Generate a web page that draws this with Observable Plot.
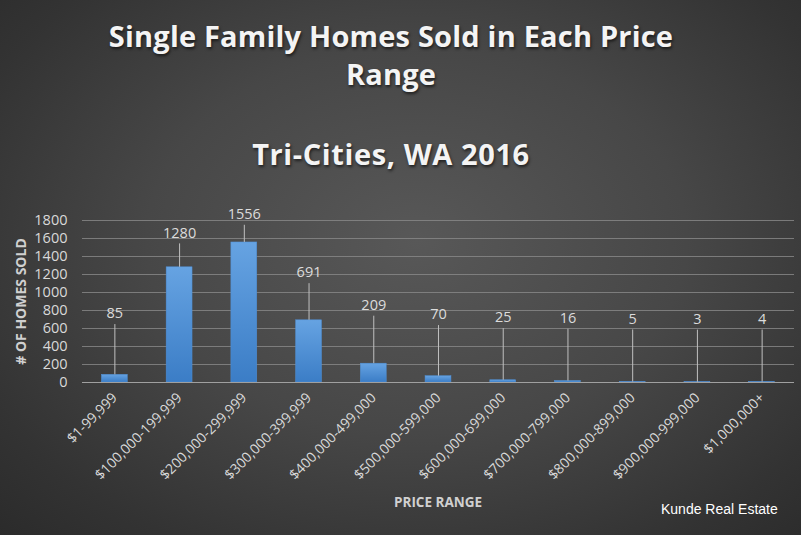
<!DOCTYPE html>
<html>
<head>
<meta charset="utf-8">
<script src="https://cdn.jsdelivr.net/npm/d3@7"></script>
<script src="https://cdn.jsdelivr.net/npm/@observablehq/plot@0.6"></script>
<style>
  html, body { margin: 0; padding: 0; }
  #frame {
    position: relative; width: 801px; height: 535px; overflow: hidden;
    background: radial-gradient(ellipse 75% 80% at 52% 45%, #585858 0%, #474747 45%, #333333 80%, #2a2a2a 100%);
    font-family: "Open Sans", sans-serif;
  }
  .title {
    position: absolute; left: 0; width: 782px; text-align: center;
    color: #f4f4f4; font-weight: 700; font-size: 29px; line-height: 38px;
    text-shadow: 1px 2px 3px rgba(0,0,0,0.6);
    letter-spacing: 0.2px;
  }
  #chart { position: absolute; left: 0; top: 0; }
  .note { position: absolute; color: #e6e6e6; }
</style>
</head>
<body>
<div id="frame">
  <div class="title" style="top:17px">Single Family Homes Sold in Each Price<br>Range</div>
  <div class="title" style="top:135px; letter-spacing:0.6px">Tri-Cities, WA 2016</div>
  <div id="chart"></div>
  <div class="note" style="left:394px; top:493px; font-weight:700; font-size:13.5px; color:#d0d0d0;">PRICE RANGE</div>
  <div class="note" style="left:661px; top:501px; font-family:'Liberation Sans', Arial, sans-serif; font-size:14px; color:#ffffff;">Kunde Real Estate</div>
</div>
<script>
const categories = ["$1-99,999", "$100,000-199,999", "$200,000-299,999", "$300,000-399,999",
  "$400,000-499,000", "$500,000-599,000", "$600,000-699,000", "$700,000-799,000",
  "$800,000-899,000", "$900,000-999,000", "$1,000,000+"];
const homesSold = [85, 1280, 1556, 691, 209, 70, 25, 16, 5, 3, 4];
const yTicks = [0, 200, 400, 600, 800, 1000, 1200, 1400, 1600, 1800];

const data = categories.map((c, i) => ({cat: c, n: homesSold[i]}));
// leader top in data units: data labels sit above the bars on short leader lines
const leaderTop = d => 0.75 * d.n + 580;

const chart = Plot.plot({
  width: 801, height: 535,
  marginLeft: 82, marginRight: 7, marginTop: 220, marginBottom: 153,
  style: {background: "transparent", color: "#d9d9d9", fontFamily: "Open Sans, sans-serif", overflow: "visible"},
  x: {domain: categories, paddingInner: 0.6, paddingOuter: 0.3, round: false, axis: null},
  y: {domain: [0, 1800], axis: null},
  marks: [
    Plot.gridY(yTicks, {stroke: "#8a8a8a", strokeOpacity: 0.8}),
    Plot.axisY(yTicks, {tickSize: 0, tickPadding: 15, fontSize: 14.5, fill: "#d9d9d9", label: null, tickFormat: d3.format("d")}),
    Plot.barY(data, {x: "cat", y: "n", fill: "url(#barGrad)", stroke: "#4f8fd6", strokeWidth: 0.5}),
    Plot.ruleY([0], {stroke: "#a0a0a0"}),
    Plot.ruleX(data, {x: "cat", y1: "n", y2: leaderTop, stroke: "#c0c0c0", strokeWidth: 1}),
    Plot.text(data, {x: "cat", y: leaderTop, text: d => String(d.n), dy: -11, fontSize: 14.5, fill: "#dcdcdc"}),
    Plot.axisX({tickSize: 0, tickPadding: 13, tickRotate: -45, fontSize: 14, fill: "#d9d9d9", label: null}),
    Plot.text(["# OF HOMES SOLD"], {frameAnchor: "left", rotate: -90, dx: -61, textAnchor: "middle", fontWeight: "bold", fontSize: 14, fill: "#d0d0d0"})
  ]
});

const defs = d3.select(chart).insert("defs", ":first-child");
const g = defs.append("linearGradient").attr("id", "barGrad").attr("x1", 0).attr("y1", 0).attr("x2", 0).attr("y2", 1);
g.append("stop").attr("offset", "0%").attr("stop-color", "#66a3e2");
g.append("stop").attr("offset", "100%").attr("stop-color", "#3b7dc6");

document.getElementById("chart").appendChild(chart);
</script>
</body>
</html>
